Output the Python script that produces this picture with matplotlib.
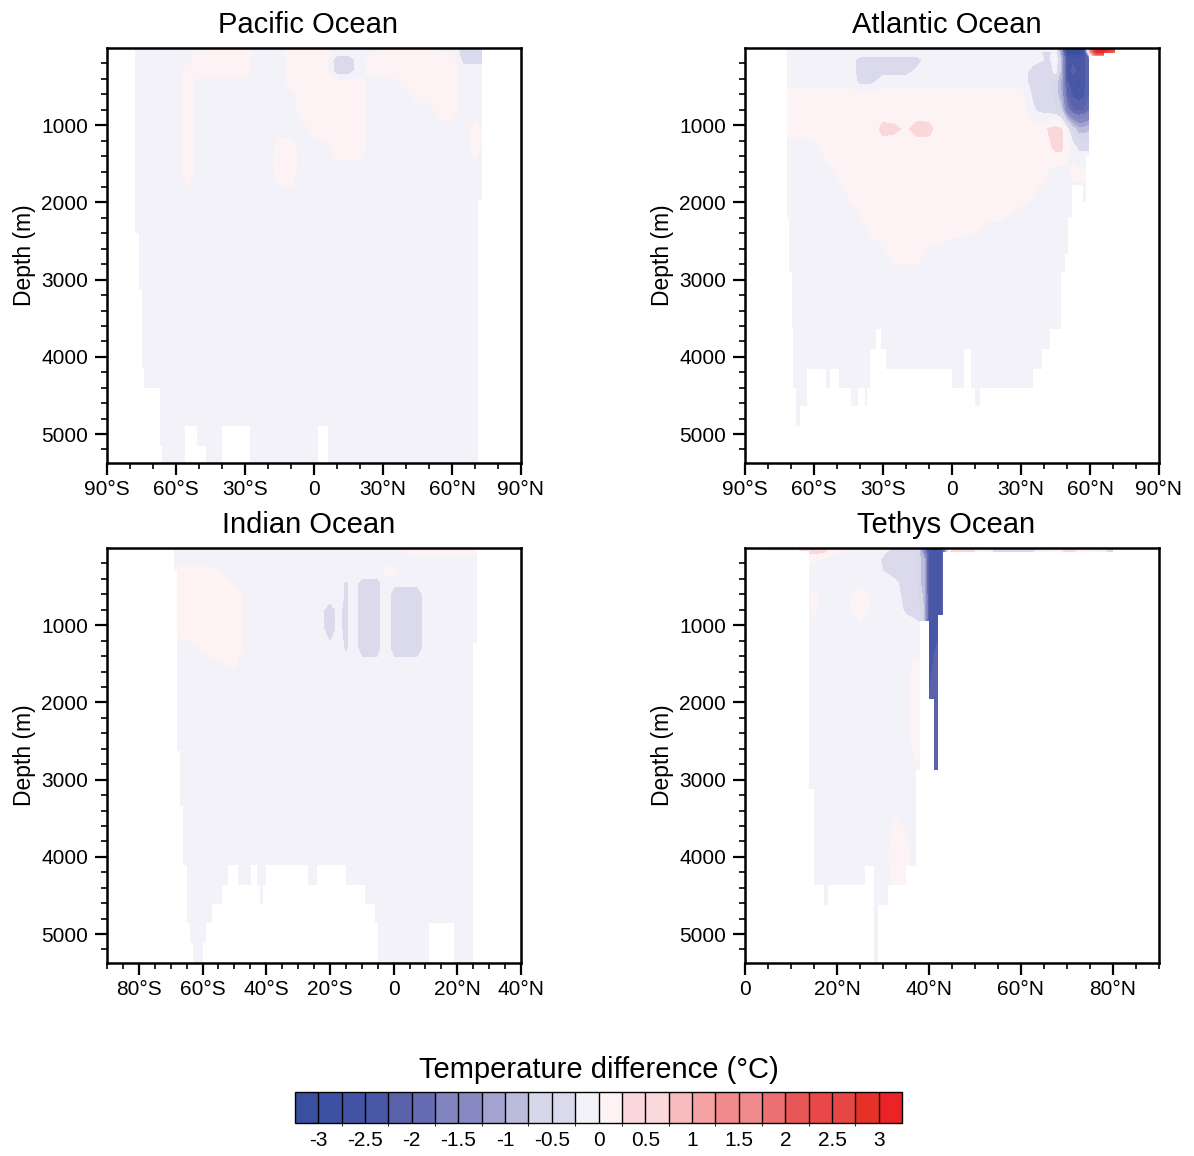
import numpy as np
import matplotlib
matplotlib.use("Agg")
import matplotlib.pyplot as plt
from matplotlib.colors import ListedColormap, BoundaryNorm

plt.rcParams['font.family'] = ['Liberation Sans', 'DejaVu Sans']
plt.rcParams['axes.unicode_minus'] = False

# ---------------- colour scale ----------------
levels = [-3.0, -2.75, -2.5, -2.25, -2.0, -1.75, -1.5, -1.25, -1.0, -0.75, -0.5, -0.25, 0.0,
          0.25, 0.5, 0.75, 1.0, 1.25, 1.5, 1.75, 2.0, 2.25, 2.5, 2.75, 3.0]
colors = ['#3A4F9F', '#3C51A1', '#4254A3', '#4858A6', '#5A62AC', '#676BB2', '#8284BF', '#8789C2',
          '#A3A3D1', '#BBBBDC', '#D7D7EA', '#DADAEC', '#F2F2F8', '#FEF3F4', '#FAD7DA', '#F9D9DC',
          '#F8BCBE', '#F4A2A4', '#F18A8C', '#F0898B', '#EC6F71', '#E95658', '#E84848', '#E74646',
          '#E63129', '#EB2327']
cbar_ticks = [-3, -2.5, -2, -1.5, -1, -0.5, 0, 0.5, 1, 1.5, 2, 2.5, 3]

B, P, V = -0.1, 0.1, -0.35   # background, weak warm, weak cool anomaly (degC)

# ---------------- Pacific ----------------
pac_lat = [-80, -75, -70, -65, -60, -55, -50, -45, -40, -35, -30, -25, -20, -15, -10, -5, 0, 5,
           10, 15, 20, 25, 30, 35, 40, 45, 50, 55, 60, 65, 70, 75]
pac_depth = [0, 50, 150, 300, 450, 600, 800, 1050, 1300, 1600, 2000, 5375]
pac_dT = [
    [B,B,B,B,B,B,P,P,P,P,P,B,B,B,P,P,B,B,B,B,B,B,P,P,P,P,P,B,B,V,V,V],
    [B,B,B,B,B,B,P,P,P,P,P,B,B,B,P,P,P,P,B,B,B,B,P,P,P,P,P,P,B,V,V,V],
    [B,B,B,B,B,B,P,P,P,P,P,B,B,B,P,P,P,P,-0.45,-0.45,B,P,P,P,P,P,P,P,P,V,V,V],
    [B,B,B,B,B,P,P,P,P,P,P,B,B,B,P,P,P,P,-0.4,-0.4,B,P,P,P,P,P,P,P,P,B,B,B],
    [B,B,B,B,B,P,B,B,B,B,B,B,B,B,P,P,P,P,P,P,P,B,B,B,P,P,P,P,P,B,B,B],
    [B,B,B,B,B,P,B,B,B,B,B,B,B,B,B,P,P,P,P,P,P,B,B,B,B,P,P,P,P,B,B,B],
    [B,B,B,B,B,P,B,B,B,B,B,B,B,B,B,P,P,P,P,P,P,B,B,B,B,B,B,P,P,B,B,B],
    [B,B,B,B,B,P,B,B,B,B,B,B,B,B,B,B,P,P,P,P,P,B,B,B,B,B,B,B,B,B,P,B],
    [B,B,B,B,B,P,B,B,B,B,B,B,B,P,P,B,B,B,P,P,P,B,B,B,B,B,B,B,B,B,P,B],
    [B,B,B,B,B,P,B,B,B,B,B,B,B,P,P,B,B,B,B,B,B,B,B,B,B,B,B,B,B,B,B,B],
    [B,B,B,B,B,B,B,B,B,B,B,B,B,B,B,B,B,B,B,B,B,B,B,B,B,B,B,B,B,B,B,B],
    [B,B,B,B,B,B,B,B,B,B,B,B,B,B,B,B,B,B,B,B,B,B,B,B,B,B,B,B,B,B,B,B],
]
pac_floor_lat = [-90, -77.8, -75.9, -74.9, -74.1, -67.0, -65.9, -56.1, -51.0, -47.0, -40.0, -27.8,
                 1.9, 6.2, 71.2, 73.2, 90]
pac_floor_depth = [0, 2400, 3140, 4140, 4400, 5160, 5375, 4900, 5160, 5375, 4900, 5375, 4900,
                   5375, 1970, 0]

# ---------------- Atlantic ----------------
atl_lat = [-75, -70, -65, -60, -55, -50, -45, -40, -35, -30, -25, -20, -15, -10, -5, 0, 5, 10,
           15, 20, 25, 30, 35, 37.5, 40, 42.5, 45, 47.5, 50, 52.5, 55, 57.5, 60, 62.5, 65, 67.5,
           70, 72.5]
atl_depth = [0, 50, 150, 300, 450, 600, 800, 1050, 1300, 1600, 2000, 2300, 2600, 3000, 5375]
atl_dT = [
    [P,P,P,P,P,P,P,P,P,P,P,P,P,P,P,P,P,P,P,P,P,P,
     0.1,0.1,0.1,0.05,-0.2,-1.5,-3.2,-3.3,-3.3,-3.0,1.5,3.1,3.2,3.0,2.6,2.0],
    [B,B,B,B,B,B,B,B,B,B,B,B,B,B,B,B,B,B,B,B,B,B,
     -0.1,-0.2,-0.3,-0.3,-0.1,-1.2,-3.1,-3.2,-3.1,-2.8,1.0,2.8,2.9,2.6,2.0,1.0],
    [B,B,B,B,B,B,B,V,V,V,V,V,V,B,B,B,B,B,B,B,B,B,
     -0.15,-0.2,-0.25,-0.3,0.05,-0.9,-2.3,-2.3,-2.4,-2.3,-2.0,B,B,B,B,B],
    [B,B,B,B,B,B,B,V,V,V,V,V,-0.2,B,B,B,B,B,B,B,B,B,
     -0.35,-0.4,-0.45,-0.4,-0.15,-0.9,-2.5,-2.2,-2.3,-2.3,-2.0,B,B,B,B,B],
    [B,B,B,B,B,B,B,-0.3,-0.3,B,B,B,B,B,B,B,B,B,B,B,B,B,
     -0.35,-0.4,-0.45,-0.5,-0.6,-1.1,-2.2,-2.4,-2.6,-2.3,-2.0,B,B,B,B,B],
    [P,P,P,P,P,P,P,P,P,P,P,P,P,P,P,P,P,P,P,P,P,P,
     -0.3,-0.35,-0.4,-0.45,-0.6,-1.0,-2.0,-2.3,-2.4,-2.3,-2.0,B,B,B,B,B],
    [P,P,P,P,P,P,P,P,P,P,P,P,P,P,P,P,P,P,P,P,P,P,
     -0.2,-0.3,-0.35,-0.4,-0.45,-0.7,-1.6,-2.0,-2.1,-2.0,-1.8,B,B,B,B,B],
    [P,P,P,P,P,P,P,P,P,0.33,0.3,0.2,0.35,0.33,P,P,P,P,P,P,P,P,
     0.1,0.1,0.15,0.3,0.35,0.3,-0.1,-0.6,-0.9,-0.9,-0.8,B,B,B,B,B],
    [B,B,B,B,P,P,P,P,P,P,P,P,P,P,P,P,P,P,P,P,P,P,
     0.1,0.1,0.1,0.2,0.3,0.3,0.1,-0.1,-0.3,-0.3,-0.3,B,B,B,B,B],
    [B,B,B,B,B,0.02,P,P,P,P,P,P,P,P,P,P,P,P,P,P,P,P,
     0.1,0.1,0.05,-0.02,-0.1,-0.1,-0.05,0.05,0.05,0.05,0.05,B,B,B,B,B],
    [B,B,B,B,B,B,-0.02,P,P,P,P,P,P,P,P,P,P,P,P,P,P,0.02,
     -0.02,B,B,B,B,B,B,B,B,B,B,B,B,B,B,B],
    [B,B,B,B,B,B,B,B,P,P,P,P,P,P,P,P,P,0.05,-0.02,-0.02,B,B,
     B,B,B,B,B,B,B,B,B,B,B,B,B,B,B,B],
    [B,B,B,B,B,B,B,B,B,-0.02,P,P,P,-0.02,-0.02,B,B,B,B,B,B,B,
     B,B,B,B,B,B,B,B,B,B,B,B,B,B,B,B],
    [B,B,B,B,B,B,B,B,B,B,B,B,B,B,B,B,B,B,B,B,B,B,
     B,B,B,B,B,B,B,B,B,B,B,B,B,B,B,B],
    [B,B,B,B,B,B,B,B,B,B,B,B,B,B,B,B,B,B,B,B,B,B,
     B,B,B,B,B,B,B,B,B,B,B,B,B,B,B,B],
]
atl_floor_lat = [-90, -71.9, -70.7, -69.7, -69.0, -67.8, -66.1, -63.2, -54.8, -53.0, -49.0, -43.9,
                 -40.7, -37.8, -37.1, -35.7, -33.0, -31.0, -28.8, 0.1, 5.2, 8.3, 10.0, 12.2, 35.1,
                 39.0, 42.6, 47.2, 49.1, 50.3, 52.0, 57.1, 58.3, 59.6, 66.0, 71.0, 90]
atl_floor_depth = [0, 2190, 2900, 3640, 4400, 4900, 4640, 4160, 4400, 4160, 4400, 4640, 4400, 4640,
                   4400, 3900, 3640, 3900, 4160, 4400, 3900, 4400, 4640, 4400, 4160, 3900, 3640,
                   2900, 2670, 2190, 1775, 1990, 1400, 110, 60, 0]

# ---------------- Indian ----------------
ind_lat = [-75, -70, -65, -60, -55, -50, -45, -40, -35, -30, -25, -22.5, -20, -17.5, -15, -12.5,
           -10, -7.5, -5, -2.5, 0, 2.5, 5, 7.5, 10, 12.5, 15, 20, 25, 30]
ind_depth = [0, 50, 150, 300, 450, 600, 800, 1050, 1300, 1600, 2000, 5375]
ind_dT = [
    [B,B,B,P,P,P,P,P,P,P,P,P,P,P,P,B,B,B,B,B,B,B,P,P,P,P,P,P,P,B],
    [B,B,B,B,B,B,B,B,B,B,B,B,B,B,B,B,B,B,B,B,B,B,P,P,P,P,P,P,P,B],
    [B,B,B,B,B,B,B,B,B,B,B,B,B,B,B,B,B,B,B,B,B,B,B,B,B,B,B,B,B,B],
    [B,P,P,P,0.02,B,B,B,B,B,B,B,B,B,B,B,B,B,B,0.05,0.1,B,B,B,B,B,B,B,B,B],
    [B,P,P,P,P,-0.02,B,B,B,B,B,B,B,B,-0.3,-0.15,V,V,V,B,-0.2,-0.2,-0.2,-0.2,B,B,B,B,B,B],
    [B,P,P,P,P,P,B,B,B,B,B,B,B,B,-0.3,-0.15,V,V,V,B,V,V,V,V,-0.2,B,B,B,B,B],
    [B,P,P,P,P,P,B,B,B,B,B,-0.2,-0.4,-0.2,-0.3,-0.15,V,V,V,B,V,V,V,V,-0.2,B,B,B,B,B],
    [B,P,P,P,P,P,B,B,B,B,B,-0.2,-0.4,-0.2,-0.3,-0.15,V,V,V,B,V,V,V,V,-0.2,B,B,B,B,B],
    [B,B,B,0.02,P,P,B,B,B,B,B,-0.2,-0.2,B,-0.3,-0.15,V,V,V,B,V,V,V,V,-0.2,B,B,B,B,B],
    [B,B,B,B,B,-0.02,B,B,B,B,B,B,B,B,B,B,B,B,B,B,B,B,B,B,B,B,B,B,B,B],
    [B,B,B,B,B,B,B,B,B,B,B,B,B,B,B,B,B,B,B,B,B,B,B,B,B,B,B,B,B,B],
    [B,B,B,B,B,B,B,B,B,B,B,B,B,B,B,B,B,B,B,B,B,B,B,B,B,B,B,B,B,B],
]
ind_floor_lat = [-90, -69.0, -67.9, -67.1, -66.0, -64.8, -63.9, -62.9, -59.8, -58.9, -56.9, -53.8,
                 -51.9, -48.8, -44.8, -43.0, -42.0, -40.9, -40.1, -26.8, -24.0, -15.0, -9.0, -5.9,
                 -4.8, 11.2, 19.1, 25.0, 26.1, 40]
ind_floor_depth = [0, 300, 2630, 3345, 4100, 4855, 5115, 5375, 5115, 4855, 4610, 4360, 4100, 4360,
                   4100, 4360, 4610, 4360, 4100, 4360, 4100, 4360, 4610, 4855, 5375, 4855, 5375,
                   1230, 0]

# ---------------- Tethys ----------------
tet_lat = [0, 5, 10, 12.5, 15, 17.5, 20, 22.5, 25, 27.5, 30, 32.5, 35, 37, 38, 39, 40, 41, 42, 43,
           44, 45, 47.5, 50, 55, 60, 65, 70, 75, 80, 85, 90]
tet_depth = [0, 50, 150, 300, 450, 600, 800, 1050, 1300, 1600, 2000, 2500, 3000, 4000, 5375]
tet_dT = [
    [B,0.1,0.1,0.3,0.35,0.3,0.1,0.05,0.05,0.05,B,-0.3,-0.35,-0.5,-0.8,-1.5,-2.4,-2.6,-2.6,-2.0,
     -0.6,0.3,0.5,0.3,-0.4,-0.5,-0.2,0.4,0.1,-0.4,-0.4,B],
    [0.05,0.05,0.05,0.3,0.3,0.25,0.05,B,B,B,-0.2,-0.35,-0.4,-0.5,-0.8,-1.5,-2.4,-2.5,-2.5,-2.3,
     -0.5,0.5,0.6,0.2,-0.4,-0.45,-0.1,0.3,0.1,-0.4,-0.4,B],
    [B,B,B,0.1,0.1,B,B,B,B,B,-0.3,-0.4,-0.45,-0.5,-0.7,-1.0,-2.4,-2.4,-2.4,-2.3,
     B,B,B,B,B,B,B,B,B,B,B,B],
    [B,B,B,B,B,B,B,B,B,B,-0.25,-0.35,-0.45,-0.5,-0.7,-1.0,-2.4,-2.4,-2.4,-2.3,
     B,B,B,B,B,B,B,B,B,B,B,B],
    [B,B,B,B,B,B,B,B,B,B,B,-0.2,-0.35,-0.45,-0.7,-1.0,-2.4,-2.4,-2.4,-2.3,
     B,B,B,B,B,B,B,B,B,B,B,B],
    [B,B,B,B,0.05,B,B,-0.05,0.15,-0.05,B,-0.15,-0.35,-0.4,-0.6,-0.9,-2.4,-2.4,-2.4,-2.3,
     B,B,B,B,B,B,B,B,B,B,B,B],
    [B,B,B,B,0.05,B,B,-0.05,0.15,-0.05,B,B,-0.3,-0.35,-0.5,-0.8,-2.4,-2.4,-2.4,-2.3,
     B,B,B,B,B,B,B,B,B,B,B,B],
    [B,B,B,B,B,B,B,B,B,B,B,B,B,-0.15,-0.15,-1.0,-2.4,-2.4,-2.3,-2.3,
     B,B,B,B,B,B,B,B,B,B,B,B],
    [B,B,B,B,B,B,B,B,B,B,B,B,B,B,B,-1.0,-2.4,-2.3,-2.2,-2.2,
     B,B,B,B,B,B,B,B,B,B,B,B],
    [B,B,B,B,B,B,B,B,B,B,B,B,B,P,P,-1.0,-2.4,-2.2,-2.1,-2.1,
     B,B,B,B,B,B,B,B,B,B,B,B],
    [B,B,B,B,B,B,B,B,B,B,B,B,B,P,P,-1.0,-2.2,-2.1,-2.1,-2.1,
     B,B,B,B,B,B,B,B,B,B,B,B],
    [B,B,B,B,B,B,B,B,B,B,B,B,B,P,P,-1.0,-2.1,-2.1,-2.1,-2.1,
     B,B,B,B,B,B,B,B,B,B,B,B],
    [B,B,B,B,B,B,B,B,B,B,B,B,B,B,B,-1.0,-2.1,-2.1,-2.1,-2.1,
     B,B,B,B,B,B,B,B,B,B,B,B],
    [B,B,B,B,B,B,B,B,B,B,B,P,0.05,B,B,B,B,B,B,B,
     B,B,B,B,B,B,B,B,B,B,B,B],
    [B,B,B,B,B,B,B,B,B,B,B,B,B,B,B,B,B,B,B,B,
     B,B,B,B,B,B,B,B,B,B,B,B],
]
tet_floor_lat = [0, 5.1, 13.9, 15.0, 17.1, 18.0, 26.1, 28.1, 29.0, 31.0, 34.9, 37.1, 38.0, 40.0,
                 41.1, 42.0, 43.0, 80.1, 90]
tet_floor_depth = [0, 40, 3115, 4370, 4620, 4370, 4120, 5375, 4620, 4370, 4120, 2870, 950, 1960,
                   2870, 865, 55, 0]

# ---------------- axes ticks ----------------
pac_xticks = [-90, -60, -30, 0, 30, 60, 90]
ind_xticks = [-80, -60, -40, -20, 0, 20, 40]
tet_xticks = [0, 20, 40, 60, 80]
depth_ticks = [1000, 2000, 3000, 4000, 5000]

# ---------------- drawing ----------------
cmap = ListedColormap(colors[1:-1])
cmap.set_under(colors[0])
cmap.set_over(colors[-1])
norm = BoundaryNorm(levels, cmap.N)

W, H = 1194, 1156
def rect(l, t, r, b):
    return [l / W, 1 - b / H, (r - l) / W, (b - t) / H]

def lat_label(v):
    if v == 0:
        return '0'
    return f"{abs(v):g}°{'S' if v < 0 else 'N'}"

fig = plt.figure(figsize=(W / 100, H / 100), dpi=100)

panels = [
    ('Pacific Ocean', rect(107, 48, 521, 463), pac_lat, pac_depth, pac_dT, pac_floor_lat,
     pac_floor_depth, (-90, 90), pac_xticks, 10),
    ('Atlantic Ocean', rect(745, 48, 1159, 463), atl_lat, atl_depth, atl_dT, atl_floor_lat,
     atl_floor_depth, (-90, 90), pac_xticks, 10),
    ('Indian Ocean', rect(107, 548, 521, 963), ind_lat, ind_depth, ind_dT, ind_floor_lat,
     ind_floor_depth, (-90, 40), ind_xticks, 5),
    ('Tethys Ocean', rect(745, 548, 1159, 963), tet_lat, tet_depth, tet_dT, tet_floor_lat,
     tet_floor_depth, (0, 90), tet_xticks, 5),
]

cs = None
for title, r, lat, dep, dT, flat, fdep, xlim, xt, xminor in panels:
    ax = fig.add_axes(r)
    cs = ax.contourf(np.array(lat), np.array(dep), np.array(dT), levels=levels, cmap=cmap,
                     norm=norm, extend='both', zorder=1)
    ax.fill_between(flat, list(fdep) + [fdep[-1]], 6000, step='post', color='white',
                    linewidth=0, zorder=2)
    ax.set_xlim(*xlim)
    ax.set_ylim(5375, 0)
    ax.set_xticks(xt)
    ax.set_xticklabels([lat_label(v) for v in xt])
    ax.set_xticks(np.arange(xlim[0], xlim[1] + 0.1, xminor), minor=True)
    ax.set_yticks(depth_ticks)
    ax.set_yticks(np.arange(200, 5375, 200), minor=True)
    ax.tick_params(axis='both', which='major', direction='out', length=8.5, width=1.6,
                   labelsize=15, top=False, right=False)
    ax.tick_params(axis='x', which='major', pad=3.5)
    ax.tick_params(axis='y', which='major', pad=5)
    ax.tick_params(axis='both', which='minor', direction='out', length=4.5, width=1.2,
                   top=False, right=False)
    for s in ax.spines.values():
        s.set_linewidth(1.8)
        s.set_zorder(5)
    ax.set_title(title, fontsize=21, pad=10.5, x=0.4867)
    ax.set_ylabel('Depth (m)', fontsize=16.5)
    ax.yaxis.set_label_coords(-0.171, 0.5)

cax = fig.add_axes(rect(295, 1092, 902, 1123))
cb = fig.colorbar(cs, cax=cax, orientation='horizontal', extend='both', extendrect=True,
                  extendfrac=1 / 24, drawedges=True, ticks=cbar_ticks)
cb.set_ticklabels([f"{t:g}" for t in cbar_ticks])
cb.ax.tick_params(length=0, labelsize=15, pad=6)
cb.outline.set_linewidth(1.0)
cb.dividers.set_color('black')
cb.dividers.set_linewidth(1.0)
fig.text(598.5 / W, 1 - 1078 / H, 'Temperature difference (°C)', ha='center', va='baseline',
         fontsize=21)

fig.savefig('out.png', dpi=100)
